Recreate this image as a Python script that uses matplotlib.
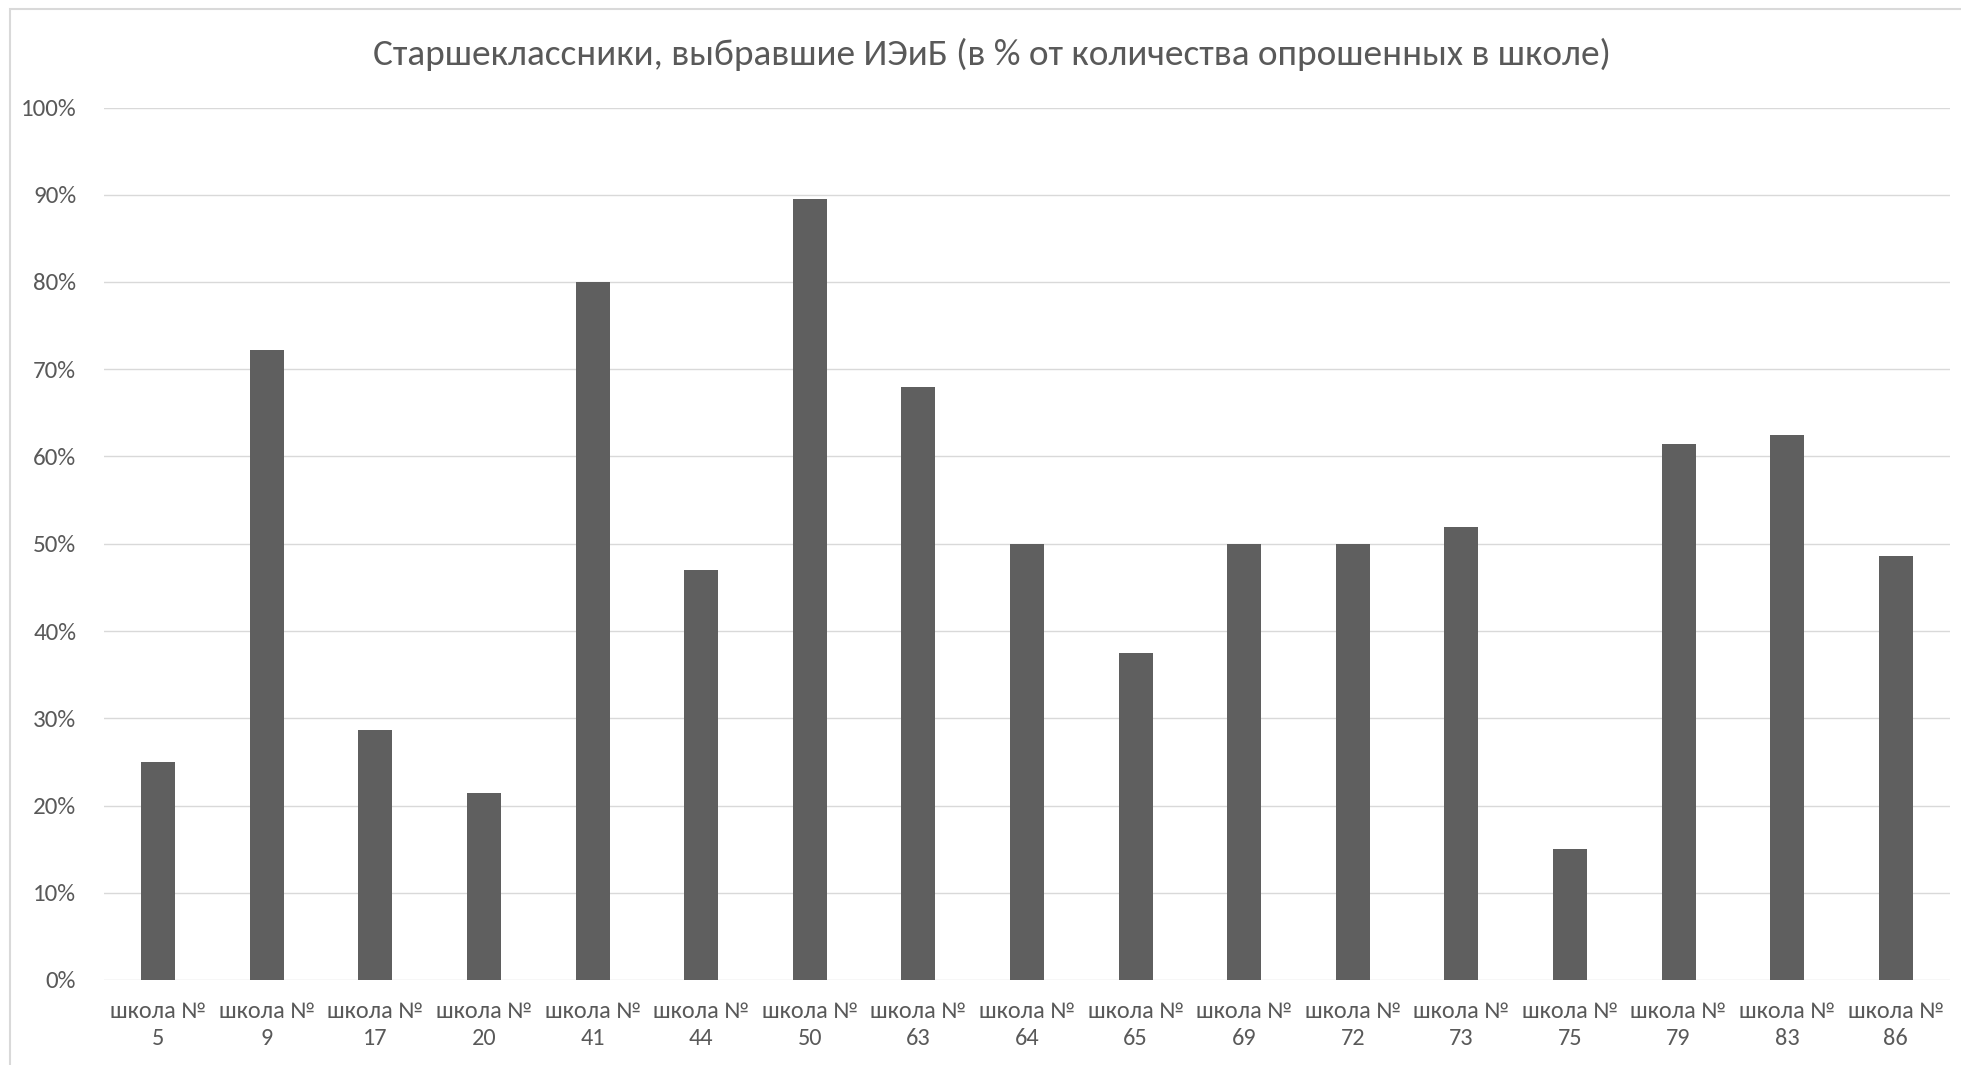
import matplotlib
matplotlib.use("Agg")
import matplotlib.pyplot as plt
from matplotlib.patches import Rectangle
from matplotlib.ticker import MultipleLocator, FuncFormatter

plt.rcParams['font.family'] = ['Carlito', 'Lato', 'Open Sans', 'DejaVu Sans']

schools = ["5", "9", "17", "20", "41", "44", "50", "63", "64", "65",
           "69", "72", "73", "75", "79", "83", "86"]
labels = ["школа №\n" + s for s in schools]
values = [25.0, 72.2, 28.6, 21.4, 80.0, 47.0, 89.5, 68.0, 50.0, 37.5,
          50.0, 50.0, 51.9, 15.0, 61.4, 62.5, 48.6]
title = "Старшеклассники, выбравшие ИЭиБ (в % от количества опрошенных в школе)"

W, H = 1961, 1065
fig = plt.figure(figsize=(W / 100, H / 100), dpi=100)
fig.patch.set_facecolor("white")

# chart-area border (left/top visible, rest cropped)
fig.patches.append(Rectangle((10 / W, -0.1), 1.2, (H - 9) / H + 0.1,
                             transform=fig.transFigure, fill=False,
                             edgecolor="#d9d9d9", linewidth=1.5, zorder=0))

ax = fig.add_axes([104 / W, 85 / H, (1950 - 104) / W, (957.5 - 85) / H])
x = list(range(len(values)))
ax.bar(x, [v / 100 for v in values], width=0.313, color="#5f5f5f", zorder=3)

ax.set_xlim(-0.5, len(values) - 0.5)
ax.set_ylim(0, 1.0)
ax.yaxis.set_major_locator(MultipleLocator(0.1))
ax.yaxis.set_major_formatter(FuncFormatter(lambda v, p: f"{v * 100:.0f}%"))
ax.grid(axis="y", color="#d9d9d9", linewidth=1.0, zorder=0)
ax.set_axisbelow(True)
for s in ax.spines.values():
    s.set_visible(False)
ax.set_xticks(x)
ax.set_xticklabels(labels, linespacing=1.38)
ax.tick_params(axis="both", length=0, colors="#595959")
ax.tick_params(axis="y", pad=20, labelsize=18)
ax.tick_params(axis="x", pad=15, labelsize=17.5)

fig.text(992 / W, 1 - 54 / H, title, ha="center", va="center",
         fontsize=26.8, color="#595959")

fig.savefig("out.png", dpi=100, facecolor="white")
